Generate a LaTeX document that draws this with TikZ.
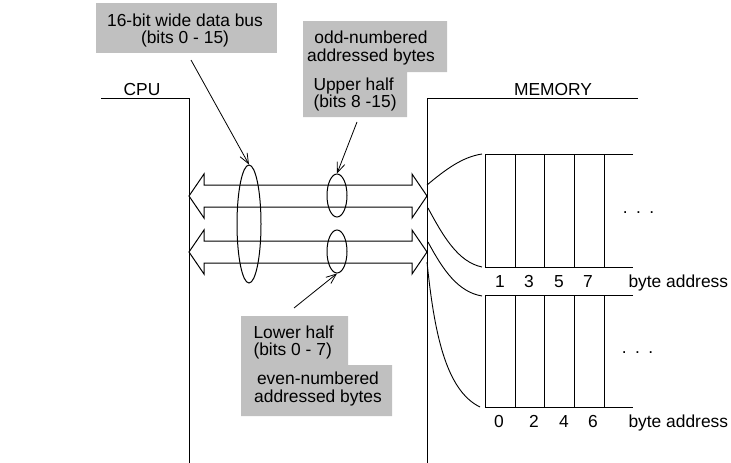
\documentclass[tikz,border=0pt]{standalone}
\usepackage{fontspec}
\setmainfont{Liberation Sans}
\usetikzlibrary{arrows.meta,shapes.geometric}
\definecolor{labelgray}{RGB}{192,192,192}
\begin{document}
\begin{tikzpicture}[x=1pt,y=-1pt,line width=1pt,
  txt/.style={font=\fontsize{17.4}{18}\selectfont,inner sep=0pt,anchor=base},
  txtl/.style={txt,anchor=base west},
  lead/.style={-{Straight Barb[length=10pt,width=8pt]},line width=0.8pt},
  bus/.style={line width=1pt,line join=miter},
  link/.style={line width=0.9pt},
  group/.style={draw,ellipse,inner sep=0pt}]
\useasboundingbox (0,0) rectangle (731,463);

% grey label backgrounds
\fill[labelgray] (96,3) rectangle (277,53);
\fill[labelgray] (303,21) -- (447,21) -- (447,72) -- (407,72) -- (407,117) -- (303,117) -- cycle;
\fill[labelgray] (241,316) -- (348,316) -- (348,365) -- (392,365) -- (392,416) -- (241,416) -- cycle;

% CPU and memory boundaries
\draw (101,98) -- (189,98) -- (189,463);
\draw (427,463) -- (427,98) -- (638,98);
\node[txt] (cpu) at (142,95) {CPU};
\node[txt] (mem) at (553,95) {MEMORY};

% the two byte-wide halves of the bus
\foreach \y in {196,252}{
  \draw[bus] (189,\y) -- (204,{\y-22}) -- (204,{\y-11}) -- (412,{\y-11}) -- (412,{\y-22})
    -- (427,\y) -- (412,{\y+22}) -- (412,{\y+11}) -- (204,{\y+11}) -- (204,{\y+22}) -- cycle;
}

% groupings of bus lines
\node[group,minimum width=24pt,minimum height=118pt] (wide) at (249,224) {};
\node[group,minimum width=20pt,minimum height=43pt] (upper) at (337,195.5) {};
\node[group,minimum width=20pt,minimum height=43pt] (lower) at (337,251.5) {};

% label texts
\node[txt] (l1a) at (185,26) {16-bit wide data bus};
\node[txt] (l1b) at (185,43) {(bits 0 - 15)};
\node[txt] (l2a) at (371,43) {odd-numbered};
\node[txt] (l2b) at (371,61) {addressed bytes};
\node[txtl] (l3a) at (313,90) {Upper half};
\node[txtl] (l3b) at (313,107) {(bits 8 -15)};
\node[txtl] (l4a) at (253,338) {Lower half};
\node[txtl] (l4b) at (253,355) {(bits 0 - 7)};
\node[txt] (l5a) at (318,384) {even-numbered};
\node[txt] (l5b) at (318,402) {addressed bytes};

% leader arrows
\coordinate (s1) at (191,60);
\coordinate (s2) at (357,122);
\coordinate (s3) at (294,308);
\draw[lead] (s1) -- (wide.north);
\draw[lead] (s2) -- (upper.north);
\draw[lead] (s3) -- (lower.south);

% memory banks
\foreach \t/\b in {154/267,295/407}{
  \draw (633,\t) -- (485,\t) -- (485,\b) -- (633,\b);
  \foreach \x in {515,544,574,604} \draw (\x,\t) -- (\x,\b);
}

% bank connections
\draw[link] (427,185) .. controls (445,170) and (462,157) .. (482,154);
\draw[link] (428,208) .. controls (443,236) and (458,262) .. (482,267);
\draw[link] (428,242) .. controls (443,270) and (458,292) .. (482,296);
\draw[link] (427,262) .. controls (434,330) and (445,390) .. (480,407);

% addresses
\node[txt] (d1) at (500,287) {1};
\node[txt] (d3) at (529,287) {3};
\node[txt] (d5) at (559,287) {5};
\node[txt] (d7) at (588,287) {7};
\node[txtl] (ba1) at (628,287) {byte address};
\node[txt] (d0) at (499,427) {0};
\node[txt] (d2) at (534,427) {2};
\node[txt] (d4) at (564,427) {4};
\node[txt] (d6) at (593,427) {6};
\node[txtl] (ba2) at (628,427) {byte address};
\node[txt] (dots1) at (638.5,213) {.\hspace{8.5pt}.\hspace{8.5pt}.};
\node[txt] (dots2) at (637.5,353) {.\hspace{8.5pt}.\hspace{8.5pt}.};
\end{tikzpicture}
\end{document}
